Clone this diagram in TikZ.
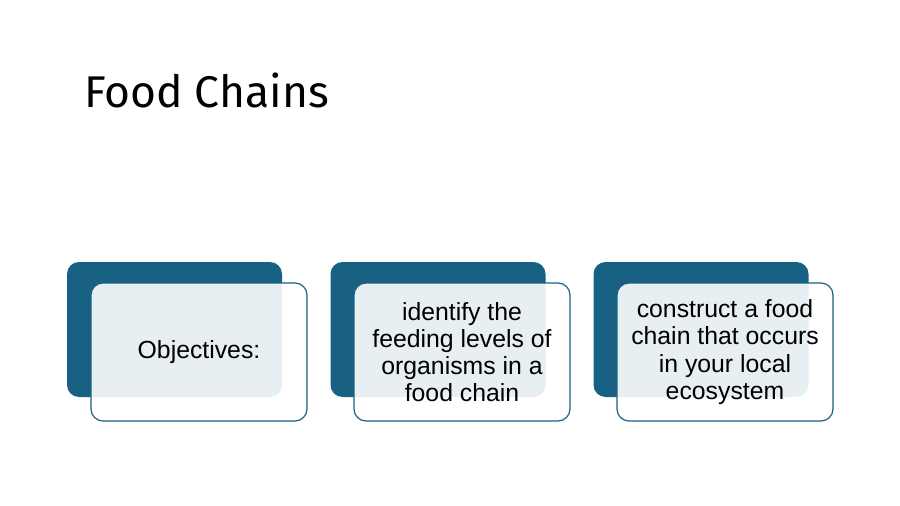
\documentclass[tikz,border=0pt]{standalone}
\usepackage{fontspec}
\setmainfont{Liberation Sans}
\newfontfamily\titlefont{Fira Sans}
\definecolor{backblue}{RGB}{24,97,131}
\tikzset{every picture/.style={line width=0.75pt}}
\tikzset{
  backbox/.style={draw=none,fill=backblue,rounded corners=9pt,minimum width=161.25pt,minimum height=101.25pt,inner sep=0pt},
  frontbox/.style={draw=backblue,line width=0.9pt,fill=white,fill opacity=0.9,text opacity=1,rounded corners=9pt,minimum width=162pt,minimum height=103.5pt,inner sep=0pt,align=center,font=\fontsize{18.6}{20.4}\selectfont}
}
\begin{document}
\begin{tikzpicture}[x=0.75pt,y=0.75pt,yscale=-1,xscale=1]
\useasboundingbox (0,0) rectangle (900,506);

%Text: Title [id:title]
\node (title) [anchor=base west,inner sep=0pt,font=\titlefont\fontsize{33.3}{40}\selectfont] at (84,108) {Food Chains};

%Shape: Rounded Rect [id:back1]
\node (back1) [backbox] at (174.5,329.5) {};
%Shape: Rounded Rect [id:front1]
\node (front1) [frontbox] at (199,352) {Objectives:};

%Shape: Rounded Rect [id:back2]
\node (back2) [backbox] at (438,329.5) {};
%Shape: Rounded Rect [id:front2]
\node (front2) [frontbox] at (462,352) {identify the\\feeding levels of\\organisms in a\\food chain};

%Shape: Rounded Rect [id:back3]
\node (back3) [backbox] at (701,329.5) {};
%Shape: Rounded Rect [id:front3]
\node (front3) [frontbox] at (725,352) {construct a food\\chain that occurs\\in your local\\ecosystem};

\end{tikzpicture}
\end{document}
